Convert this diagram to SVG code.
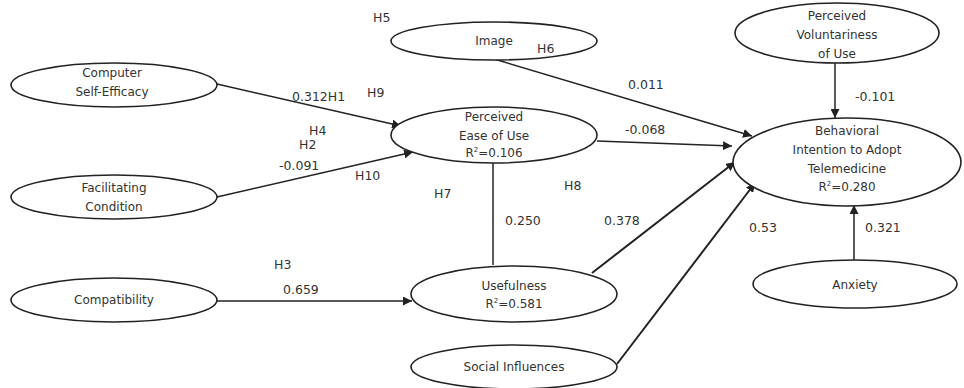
<svg xmlns="http://www.w3.org/2000/svg" width="964" height="388" viewBox="0 0 964 388">
<defs>
<marker id="arr" viewBox="0 0 10 10" refX="10" refY="5" markerWidth="9" markerHeight="9" markerUnits="userSpaceOnUse" orient="auto">
<path d="M0,0 L10,5 L0,10 z" fill="#222"/>
</marker>
</defs>
<style>
.node ellipse{fill:#fff;stroke:#222;stroke-width:1.6}
.node text{font-family:"DejaVu Sans",sans-serif;font-size:12px;fill:#333;text-anchor:middle}
.lbl{font-family:"DejaVu Sans",sans-serif;font-size:12.5px;fill:#333}
#connectors line{stroke:#222;stroke-width:1.5}
#connectors line.b{stroke-width:2}
.a{marker-end:url(#arr)}
.sup{font-size:7px}
</style>
<rect width="964" height="388" fill="#fff"/>
<g id="connectors">
<line class="a" x1="217" y1="84" x2="401" y2="126"/>
<line class="a" x1="217" y1="197" x2="413" y2="152"/>
<line class="a" x1="494" y1="59" x2="752" y2="136"/>
<line class="a" x1="597" y1="141" x2="732" y2="146"/>
<line x1="493" y1="163" x2="493" y2="265"/>
<line class="a" x1="217" y1="301" x2="412" y2="301"/>
<line class="a b" x1="592" y1="273" x2="735" y2="162"/>
<line class="a b" x1="617" y1="364" x2="755" y2="183"/>
<line class="a" x1="835" y1="63" x2="835" y2="118"/>
<line class="a" x1="854" y1="261" x2="854" y2="205"/>
</g>
<g id="computer-self-efficacy" class="node">
<ellipse cx="114" cy="85" rx="103" ry="22"/>
<text x="112" y="77">Computer</text>
<text x="112" y="96">Self-Efficacy</text>
</g>
<g id="facilitating-condition" class="node">
<ellipse cx="114" cy="197" rx="103" ry="22"/>
<text x="114" y="192">Facilitating</text>
<text x="114" y="211">Condition</text>
</g>
<g id="compatibility" class="node">
<ellipse cx="114" cy="300" rx="103" ry="22"/>
<text x="114" y="304">Compatibility</text>
</g>
<g id="image" class="node">
<ellipse cx="494" cy="41" rx="103" ry="19"/>
<text x="494" y="45">Image</text>
</g>
<g id="perceived-ease-of-use" class="node">
<ellipse cx="494" cy="135" rx="103" ry="28"/>
<text x="494" y="121">Perceived</text>
<text x="494" y="140">Ease of Use</text>
<text x="494" y="157">R<tspan class="sup" dy="-5">2</tspan><tspan dy="5">=0.106</tspan></text>
</g>
<g id="perceived-voluntariness-of-use" class="node">
<ellipse cx="837" cy="33" rx="102" ry="30"/>
<text x="837" y="20">Perceived</text>
<text x="837" y="39">Voluntariness</text>
<text x="837" y="58">of Use</text>
</g>
<g id="behavioral-intention" class="node">
<ellipse cx="847" cy="162" rx="114" ry="44"/>
<text x="847" y="135">Behavioral</text>
<text x="847" y="154">Intention to Adopt</text>
<text x="847" y="173">Telemedicine</text>
<text x="847" y="191">R<tspan class="sup" dy="-5">2</tspan><tspan dy="5">=0.280</tspan></text>
</g>
<g id="usefulness" class="node">
<ellipse cx="514" cy="294" rx="103" ry="28"/>
<text x="514" y="290">Usefulness</text>
<text x="514" y="308">R<tspan class="sup" dy="-5">2</tspan><tspan dy="5">=0.581</tspan></text>
</g>
<g id="social-influences" class="node">
<ellipse cx="514" cy="367" rx="103" ry="22"/>
<text x="514" y="371">Social Influences</text>
</g>
<g id="anxiety" class="node">
<ellipse cx="855" cy="284" rx="102" ry="24"/>
<text x="855" y="289">Anxiety</text>
</g>
<g id="labels">
<text class="lbl" x="373" y="22">H5</text>
<text class="lbl" x="537" y="53">H6</text>
<text class="lbl" x="292" y="101">0.312H1</text>
<text class="lbl" x="367" y="97">H9</text>
<text class="lbl" x="309" y="135">H4</text>
<text class="lbl" x="299" y="149">H2</text>
<text class="lbl" x="279" y="170">-0.091</text>
<text class="lbl" x="355" y="180">H10</text>
<text class="lbl" x="434" y="198">H7</text>
<text class="lbl" x="564" y="190">H8</text>
<text class="lbl" x="628" y="89">0.011</text>
<text class="lbl" x="625" y="134">-0.068</text>
<text class="lbl" x="855" y="101">-0.101</text>
<text class="lbl" x="505" y="225">0.250</text>
<text class="lbl" x="604" y="225">0.378</text>
<text class="lbl" x="749" y="232">0.53</text>
<text class="lbl" x="865" y="232">0.321</text>
<text class="lbl" x="274" y="269">H3</text>
<text class="lbl" x="283" y="294">0.659</text>
</g>
</svg>
